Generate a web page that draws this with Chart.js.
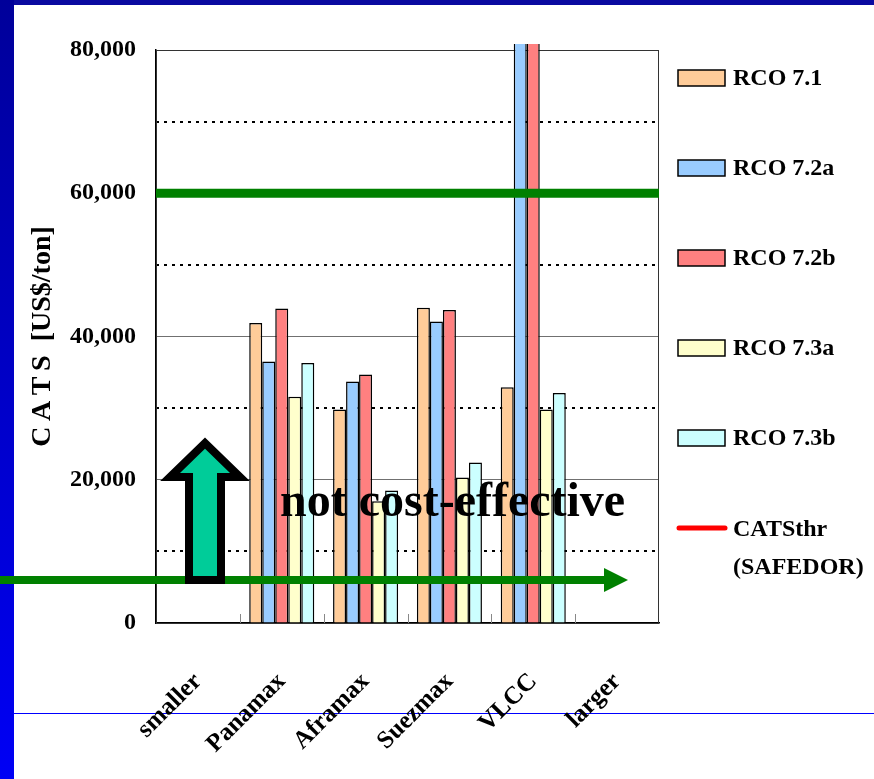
<!DOCTYPE html>
<html>
<head>
<meta charset="utf-8">
<title>CATS by ship size</title>
<script src="https://cdn.jsdelivr.net/npm/chart.js@4/dist/chart.umd.min.js"></script>
<style>
  html, body { margin: 0; padding: 0; background: #fff; }
  canvas { display: block; }
</style>
</head>
<body>
<canvas id="chart" width="874" height="779"></canvas>
<script>
// Ship size categories and CATS values (US$/ton) per risk control option
const categories = ['smaller', 'Panamax', 'Aframax', 'Suezmax', 'VLCC', 'larger'];
const rco71  = [null, 41900, 29800, 44000, 32900, null];
const rco72a = [null, 36500, 33700, 42100, 95000, null];
const rco72b = [null, 43900, 34700, 43700, 95000, null];
const rco73a = [null, 31600, 17000, 20300, 29800, null];
const rco73b = [null, 36300, 18500, 22400, 32100, null];

const seriesNames  = ['RCO 7.1', 'RCO 7.2a', 'RCO 7.2b', 'RCO 7.3a', 'RCO 7.3b'];
const seriesData   = [rco71, rco72a, rco72b, rco73a, rco73b];
const seriesColors = ['#FFCC99', '#99CCFF', '#FF8080', '#FFFFCC', '#CCFFFF'];

const thresholdLabel = ['CATSthr', '(SAFEDOR)'];
const upperThreshold = 60000;   // thick green line
const lowerThreshold = 6000;    // green arrow line
const majorTicks  = [0, 20000, 40000, 60000, 80000];
const dottedLevels = [10000, 30000, 50000, 70000];
const annotationText = 'not cost-effective';

const SERIF = "'Liberation Serif', 'Times New Roman', serif";

const decorations = {
  id: 'decorations',
  beforeDraw(chart) {
    const ctx = chart.ctx;
    const W = chart.width, H = chart.height;
    ctx.save();
    ctx.fillStyle = '#fff';
    ctx.fillRect(0, 0, W, H);
    // slide frame: dark top band and gradient side band
    ctx.fillStyle = '#0A0AA0';
    ctx.fillRect(0, 0, W, 5);
    const g = ctx.createLinearGradient(0, 0, 0, H);
    g.addColorStop(0, '#00009A');
    g.addColorStop(1, '#0000F5');
    ctx.fillStyle = g;
    ctx.fillRect(0, 0, 14, H);
    // thin rule near the bottom of the slide
    ctx.fillStyle = '#0000FF';
    ctx.fillRect(14, 713, W - 14, 1);
    ctx.restore();
  },
  beforeDatasetsDraw(chart) {
    const ctx = chart.ctx;
    const a = chart.chartArea;
    const y = chart.scales.y;
    ctx.save();
    // dotted minor grid lines
    ctx.strokeStyle = '#000';
    ctx.lineWidth = 2;
    ctx.setLineDash([3, 5]);
    dottedLevels.forEach(v => {
      const py = Math.round(y.getPixelForValue(v));
      ctx.beginPath();
      ctx.moveTo(a.left, py);
      ctx.lineTo(a.right, py);
      ctx.stroke();
    });
    ctx.setLineDash([]);
    // plot frame
    ctx.strokeStyle = '#333';
    ctx.lineWidth = 1;
    ctx.strokeRect(a.left + 0.5, a.top + 0.5, a.right - a.left - 1, a.bottom - a.top);
    // category separators rising from the base line
    ctx.strokeStyle = '#888';
    const n = categories.length;
    for (let i = 1; i < n; i++) {
      const px = Math.round(a.left + i * (a.right - a.left) / n) + 0.5;
      ctx.beginPath();
      ctx.moveTo(px, a.bottom);
      ctx.lineTo(px, a.bottom - 9);
      ctx.stroke();
    }
    ctx.restore();
  },
  afterDatasetsDraw(chart) {
    const ctx = chart.ctx;
    const a = chart.chartArea;
    const y = chart.scales.y;
    ctx.save();
    // upper threshold line
    const yUp = y.getPixelForValue(upperThreshold);
    ctx.strokeStyle = '#008000';
    ctx.lineWidth = 9;
    ctx.beginPath();
    ctx.moveTo(a.left, yUp);
    ctx.lineTo(a.right, yUp);
    ctx.stroke();
    // lower threshold arrow
    const yLo = y.getPixelForValue(lowerThreshold);
    const tipX = a.left + 472;
    ctx.lineWidth = 8;
    ctx.beginPath();
    ctx.moveTo(0, yLo);
    ctx.lineTo(tipX - 22, yLo);
    ctx.stroke();
    ctx.fillStyle = '#008000';
    ctx.beginPath();
    ctx.moveTo(tipX, yLo);
    ctx.lineTo(tipX - 24, yLo - 12);
    ctx.lineTo(tipX - 24, yLo + 12);
    ctx.closePath();
    ctx.fill();
    // upward block arrow
    const cx = a.left + 49;
    const base = yLo;
    ctx.beginPath();
    ctx.moveTo(cx - 16, base);
    ctx.lineTo(cx - 16, base - 103);
    ctx.lineTo(cx - 35, base - 103);
    ctx.lineTo(cx, base - 137);
    ctx.lineTo(cx + 35, base - 103);
    ctx.lineTo(cx + 16, base - 103);
    ctx.lineTo(cx + 16, base);
    ctx.closePath();
    ctx.fillStyle = '#00CC99';
    ctx.fill();
    ctx.lineWidth = 8;
    ctx.lineJoin = 'miter';
    ctx.miterLimit = 10;
    ctx.strokeStyle = '#000';
    ctx.stroke();
    // annotation
    ctx.fillStyle = '#000';
    ctx.font = 'bold 48px ' + SERIF;
    ctx.textAlign = 'left';
    ctx.textBaseline = 'alphabetic';
    ctx.fillText(annotationText, a.left + 124, y.getPixelForValue(15000));
    ctx.restore();
  },
  afterDraw(chart) {
    const ctx = chart.ctx;
    const boxX = 678, boxW = 47, boxH = 16, textX = 733, y0 = 78, step = 90;
    ctx.save();
    ctx.font = 'bold 24px ' + SERIF;
    ctx.textAlign = 'left';
    ctx.textBaseline = 'middle';
    chart.data.datasets.forEach((ds, i) => {
      const cy = y0 + i * step;
      ctx.fillStyle = ds.backgroundColor;
      ctx.fillRect(boxX, cy - boxH / 2, boxW, boxH);
      ctx.strokeStyle = '#000';
      ctx.lineWidth = 1.5;
      ctx.strokeRect(boxX, cy - boxH / 2, boxW, boxH);
      ctx.fillStyle = '#000';
      ctx.fillText(ds.label, textX, cy + 1);
    });
    const cy = y0 + seriesNames.length * step;
    ctx.strokeStyle = '#FF0000';
    ctx.lineWidth = 5;
    ctx.lineCap = 'round';
    ctx.beginPath();
    ctx.moveTo(679, cy);
    ctx.lineTo(725, cy);
    ctx.stroke();
    ctx.fillStyle = '#000';
    ctx.fillText(thresholdLabel[0], textX, cy + 2);
    ctx.fillText(thresholdLabel[1], textX, cy + 40);
    ctx.restore();
  }
};

new Chart(document.getElementById('chart'), {
  type: 'bar',
  data: {
    labels: categories,
    datasets: seriesNames.map((name, i) => ({
      label: name,
      data: seriesData[i],
      backgroundColor: seriesColors[i],
      borderColor: '#000',
      borderWidth: 1.5,
      barPercentage: 1,
      categoryPercentage: 0.776,
      clip: { left: 0, top: 6, right: 0, bottom: 0 }
    }))
  },
  options: {
    responsive: false,
    animation: false,
    layout: { padding: { left: 0, right: 215, top: 50, bottom: 0 } },
    plugins: { legend: { display: false }, tooltip: { enabled: false } },
    scales: {
      x: {
        offset: true,
        grid: { display: false },
        border: { color: '#000', width: 1.5 },
        ticks: {
          autoSkip: false,
          minRotation: 45,
          maxRotation: 45,
          padding: 36,
          color: '#000',
          font: { family: SERIF, weight: 'bold', size: 25 }
        },
        afterFit(s) { s.height = 156; }
      },
      y: {
        min: 0,
        max: 80000,
        afterBuildTicks(s) { s.ticks = majorTicks.map(v => ({ value: v })); },
        grid: { color: '#707070', lineWidth: 1, drawTicks: false },
        border: { color: '#000', width: 1.5 },
        ticks: {
          padding: 20,
          color: '#000',
          font: { family: SERIF, weight: 'bold', size: 24 },
          callback: v => v.toLocaleString('en-US')
        },
        title: {
          display: true,
          text: 'C\u2009A\u2009T\u2009S  [US$/ton]',
          color: '#000',
          font: { family: SERIF, weight: 'bold', size: 28 },
          padding: { top: 26, bottom: 0 }
        },
        afterFit(s) { s.width = 156; }
      }
    }
  },
  plugins: [decorations]
});
</script>
</body>
</html>
